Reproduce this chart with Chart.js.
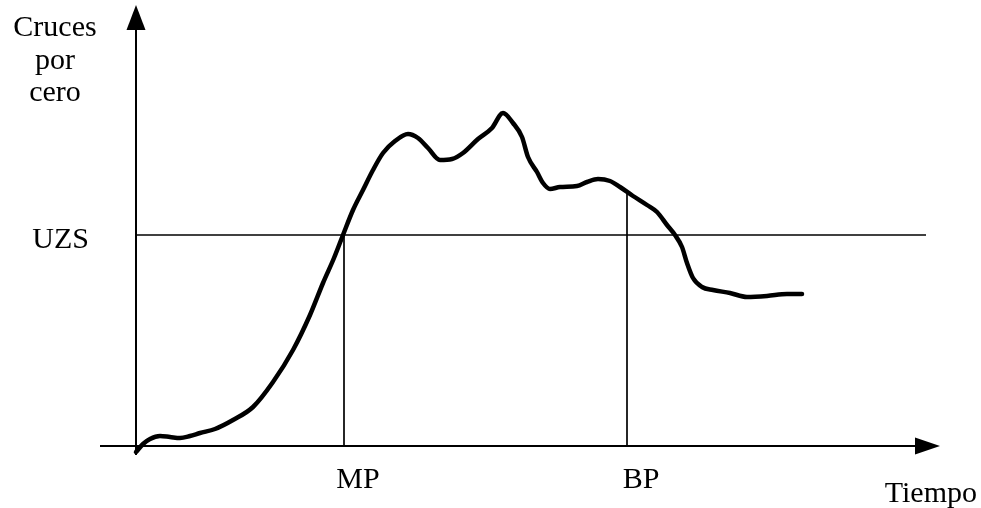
<!DOCTYPE html>
<html lang="es">
<head>
  <meta charset="UTF-8">
  <title>Cruces por cero</title>
  <script src="https://cdn.jsdelivr.net/npm/chart.js"></script>
  <style>
    body {
      margin: 0;
      background: #ffffff;
    }
    #zcChart {
      display: block;
    }
  </style>
</head>
<body>
  <canvas id="zcChart" width="981" height="508"></canvas>

  <script>
// values (time units / crossing count units)
const times = [0, 0.7, 1.4, 2.4, 3.4, 4.4, 5.4, 6.4, 7.9, 9.7, 11.7, 13.7, 15.7, 17.4, 18.7, 19.8,
  20.7, 21.7, 22.7, 23.7, 24.7, 25.9, 27.2, 28.2, 29.2, 30.4, 31.6, 32.7, 34.2, 35.6, 36.7,
  37.7, 38.6, 39.2, 40.1, 40.7, 41.4, 42.4, 44.1, 45.1, 46.2, 47.4, 48.4, 49.7, 51.1, 52.1,
  53.1, 53.9, 54.6, 55.1, 55.7, 56.6, 57.7, 59.4, 61.1, 63.1, 65.1, 66.6];
const crossings = [-0.6, 0.2, 0.7, 1.0, 0.9, 0.8, 1.0, 1.3, 1.7, 2.6, 3.9, 6.4, 9.6, 13.1, 16.3, 18.8,
  21.1, 23.6, 25.6, 27.6, 29.3, 30.5, 31.2, 30.8, 29.8, 28.6, 28.7, 29.3, 30.7, 31.8, 33.3,
  32.3, 30.9, 28.9, 27.4, 26.3, 25.7, 25.9, 26.0, 26.4, 26.7, 26.5, 25.9, 25.0, 24.1, 23.4,
  22.1, 21.1, 19.9, 18.3, 16.8, 15.9, 15.6, 15.3, 14.9, 15.0, 15.2, 15.2];

const uzsLevel = 21.1;
const uzsEnd = 79;
const markerLabels = ['MP', 'BP'];
const markerTimes = [20.8, 49.1];
const markerTops = [21.1, 25.2];
const xAxisRange = [-3.6, 80.4];
const yAxisRange = [-0.9, 44.1];
const yTitle = ['Cruces', 'por', 'cero'];
const xTitle = 'Tiempo';

const black = '#000000';
const curve = times.map((t, i) => ({ x: t, y: crossings[i] }));

const plainLine = (data, width) => ({
  data: data,
  borderColor: black,
  borderWidth: width,
  pointRadius: 0,
  tension: 0
});

const datasets = [
  {
    data: curve,
    borderColor: black,
    borderWidth: 4.5,
    pointRadius: 0,
    cubicInterpolationMode: 'monotone',
    borderCapStyle: 'round',
    borderJoinStyle: 'round'
  },
  // axes (arrow heads are added by the plugin)
  plainLine([{ x: xAxisRange[0], y: 0 }, { x: xAxisRange[1] - 2.4, y: 0 }], 2),
  plainLine([{ x: 0, y: yAxisRange[0] }, { x: 0, y: yAxisRange[1] - 2.3 }], 2),
  plainLine([{ x: 0, y: uzsLevel }, { x: uzsEnd, y: uzsLevel }], 1.7)
];
markerTimes.forEach((t, i) => {
  datasets.push(plainLine([{ x: t, y: 0 }, { x: t, y: markerTops[i] }], 1.7));
});

// arrows + text labels, placed through the scales
const labelsPlugin = {
  id: 'labels',
  afterDatasetsDraw(chart) {
    const ctx = chart.ctx;
    const xs = chart.scales.x;
    const ys = chart.scales.y;
    const x0 = xs.getPixelForValue(0);
    const y0 = ys.getPixelForValue(0);

    ctx.save();
    ctx.fillStyle = black;

    // y arrow
    const yTip = ys.getPixelForValue(yAxisRange[1]);
    ctx.beginPath();
    ctx.moveTo(x0, yTip);
    ctx.lineTo(x0 - 9.5, yTip + 25);
    ctx.lineTo(x0 + 9.5, yTip + 25);
    ctx.closePath();
    ctx.fill();

    // x arrow
    const xTip = xs.getPixelForValue(xAxisRange[1]);
    ctx.beginPath();
    ctx.moveTo(xTip, y0);
    ctx.lineTo(xTip - 25, y0 - 8.5);
    ctx.lineTo(xTip - 25, y0 + 8.5);
    ctx.closePath();
    ctx.fill();

    ctx.font = '30px "Liberation Serif", "Times New Roman", serif';

    // y title
    ctx.textAlign = 'center';
    ctx.textBaseline = 'alphabetic';
    yTitle.forEach((line, i) => {
      ctx.fillText(line, 55, 36 + i * 32.5);
    });

    // UZS
    ctx.textAlign = 'right';
    ctx.fillText('UZS', 89, ys.getPixelForValue(uzsLevel) + 13);

    // MP / BP
    ctx.textAlign = 'center';
    markerLabels.forEach((lab, i) => {
      ctx.fillText(lab, xs.getPixelForValue(markerTimes[i]) + 14, y0 + 42);
    });

    // Tiempo
    ctx.textAlign = 'right';
    ctx.fillText(xTitle, 977, 502);
    ctx.restore();
  }
};

const ctx = document.getElementById('zcChart').getContext('2d');
const zcChart = new Chart(ctx, {
  type: 'line',
  data: { datasets: datasets },
  options: {
    responsive: false,
    animation: false,
    layout: { padding: 0 },
    plugins: {
      legend: { display: false },
      tooltip: { enabled: false }
    },
    scales: {
      x: { type: 'linear', min: -13.6, max: 84.5, display: false },
      y: { type: 'linear', min: -6.2, max: 44.6, display: false }
    }
  },
  plugins: [labelsPlugin]
});
  </script>
</body>
</html>
